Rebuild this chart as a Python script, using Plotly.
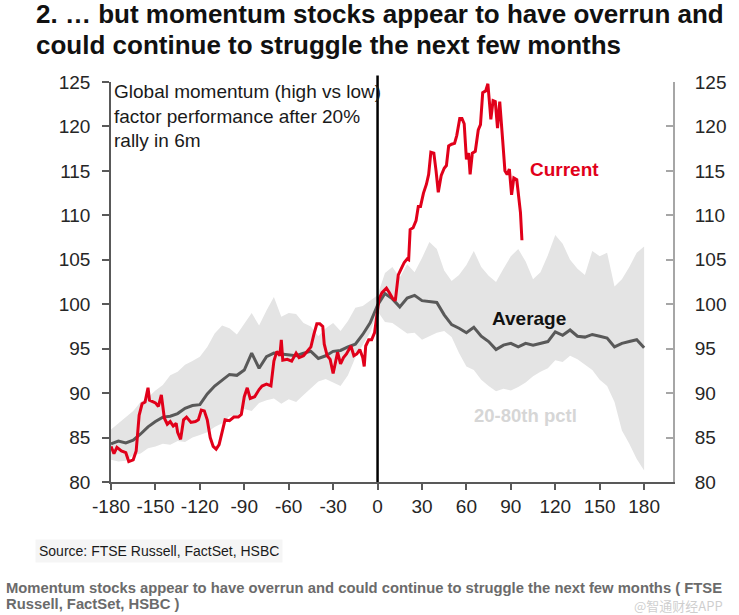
import plotly.graph_objects as go

# ---------------- data ----------------
band_x = list(range(-180, 181, 5))
band_upper = [85.9, 86.6, 87.4, 88.0, 89.0, 89.5, 90.3, 90.9, 92.0, 92.4, 93.2, 93.6, 94.1,
              95.2, 96.7, 97.6, 97.3, 96.6, 97.8, 99.0, 97.6, 99.3, 100.8, 98.6, 99.0, 98.9,
              97.9, 97.5, 96.4, 97.3, 97.9, 97.0, 98.1, 99.6, 99.8, 100.4, 101.0,
              103.5, 104.2, 103.0, 104.5, 103.6, 105.2, 107.0, 106.2, 103.8, 102.6, 103.3,
              104.4, 106.0, 104.2, 103.2, 102.5, 104.0, 105.4, 106.2, 104.8, 102.8, 103.6,
              105.5, 107.8, 106.8, 105.0, 104.0, 103.3, 106.0, 105.4, 105.8, 102.0, 102.8,
              104.2, 105.8, 106.5]
band_lower = [82.5, 82.3, 82.4, 83.0, 83.2, 83.8, 84.0, 84.3, 84.2, 84.6, 84.5, 85.0, 85.3,
              85.6, 86.2, 86.6, 87.4, 87.4, 88.2, 88.0, 88.9, 89.2, 89.4, 88.8, 89.3, 89.0,
              89.8, 90.5, 91.3, 91.6, 91.2, 90.8, 92.0, 94.0, 95.4, 96.8, 99.2,
              98.0, 97.9, 97.3, 96.7, 96.8, 96.0, 96.4, 96.8, 97.0, 96.3, 94.5, 93.0, 92.6,
              91.5, 90.8, 90.2, 90.5, 90.3, 90.7, 91.2, 91.9, 92.4, 92.8, 93.7, 93.5, 94.2,
              93.8, 93.2, 92.6, 91.5, 90.8, 89.0, 85.8, 84.3, 82.6, 81.3]
average = [84.3, 84.6, 84.4, 84.7, 85.4, 86.2, 86.8, 87.3, 87.4, 87.7, 88.3, 88.6, 88.7,
           89.9, 90.8, 91.5, 92.1, 92.0, 92.6, 94.5, 92.8, 94.1, 94.5, 94.4, 94.3, 94.2,
           94.5, 94.7, 93.9, 94.2, 94.7, 94.8, 95.2, 95.5, 96.6, 97.9, 99.9,
           101.2, 100.6, 99.7, 100.7, 101.0, 100.4, 100.3, 100.2, 98.8, 97.7, 97.3, 96.8,
           97.4, 96.4, 95.8, 94.9, 95.4, 95.6, 95.2, 95.6, 95.4, 95.6, 95.8, 96.9, 96.5,
           97.1, 96.4, 96.3, 96.6, 96.4, 96.2, 95.2, 95.6, 95.8, 96.0, 95.1]

current_x = [-180, -178, -176, -173, -170, -168, -165, -163, -161, -159, -157, -155, -154,
             -150, -148, -146, -144, -142, -140, -138, -136, -135, -133, -131, -129, -126,
             -123, -121, -119, -117, -115, -113, -111, -109, -107, -105, -103, -100, -97,
             -94, -92, -90, -88, -86, -83, -80, -78, -75, -72, -70, -68, -66, -65, -64,
             -61, -58, -55, -53, -50, -47, -45, -43, -41, -39, -37, -36, -34, -32, -30,
             -29, -27, -25, -23, -21, -18, -16, -14, -12, -10, -9, -8, -6, -4, -2, 0, 1,
             3, 6, 8, 10, 12, 14, 16, 18, 20, 21, 22, 24, 26, 27.5, 29, 31, 33, 34.5, 36,
             38, 39.5, 41, 43, 45, 46.5, 48, 50, 52, 53.5, 55.5, 57, 58.5, 60, 61.5, 62.5,
             64, 66, 68, 69.5, 71, 73, 74.5, 76, 76.5, 78, 79.5, 81, 82.5, 84.5, 86, 87.5,
             89, 90.5, 92, 94, 95.5, 96.5, 97.5]
current_y = [84.0, 83.2, 83.9, 83.5, 83.3, 82.3, 82.5, 83.5, 87.5, 88.8, 89.0, 90.6, 89.2,
             88.9, 88.5, 89.8, 87.2, 86.5, 86.8, 86.3, 86.6, 85.6, 84.8, 87.0, 87.3, 86.7,
             86.8, 87.0, 88.1, 88.0, 87.0, 85.0, 84.0, 83.7, 84.2, 85.8, 87.0, 86.9, 87.3,
             87.3, 87.6, 89.6, 90.6, 89.4, 89.6, 90.4, 90.8, 91.0, 90.8, 93.6, 94.7, 94.2,
             96.0, 93.7, 93.8, 93.6, 94.5, 94.0, 94.2, 94.8, 95.2, 96.6, 97.8, 97.8, 97.5,
             95.5, 94.2, 93.8, 92.2, 93.0, 94.6, 93.3, 94.0, 94.4, 95.3, 94.2, 94.4, 94.9,
             94.0, 93.0, 95.3, 96.0, 96.0, 96.8, 99.6, 100.6, 101.3, 101.8, 101.3, 100.7,
             100.4, 103.3, 104.0, 104.7, 105.1, 105.0, 108.4, 108.6, 109.4, 111.0, 111.0,
             112.5, 113.5, 114.6, 117.1, 117.0, 115.0, 112.6, 114.5, 115.3, 115.6, 117.8,
             118.0, 118.1, 119.0, 120.9, 120.9, 120.3, 116.3, 117.0, 114.6, 117.0, 117.2,
             119.6, 120.2, 123.8, 124.0, 124.8, 121.8, 120.8, 122.9, 122.8, 119.8, 122.8,
             118.4, 115.0, 114.6, 115.2, 112.3, 114.2, 114.0, 111.5, 110.3, 107.2]

x_ticks = list(range(-180, 181, 30))
y_ticks = list(range(80, 126, 5))

# ---------------- layout helpers ----------------
W, H = 739, 615
L, R, T, B = 111, 63, 81.5, 133
PW, PH = W - L - R, H - T - B


def px(xp):
    return (xp - L) / PW


def py(yp):
    return (H - B - yp) / PH


FONT = "Liberation Sans, Arial, sans-serif"
RED = "#e1001a"
GREY_LINE = "#595959"
BAND = "#e4e4e4"

fig = go.Figure()
fig.add_trace(go.Scatter(x=band_x, y=band_lower, mode="lines", line=dict(width=0, color=BAND),
                         showlegend=False, hoverinfo="skip"))
fig.add_trace(go.Scatter(x=band_x, y=band_upper, mode="lines", line=dict(width=0, color=BAND),
                         fill="tonexty", fillcolor=BAND, showlegend=False, hoverinfo="skip"))
fig.add_trace(go.Scatter(x=band_x, y=average, mode="lines", line=dict(width=3, color=GREY_LINE),
                         showlegend=False))
fig.add_trace(go.Scatter(x=current_x, y=current_y, mode="lines", line=dict(width=3, color=RED),
                         showlegend=False))
# invisible trace to activate the right-hand axis
fig.add_trace(go.Scatter(x=[0], y=[100], yaxis="y2", mode="markers", marker=dict(opacity=0),
                         showlegend=False, hoverinfo="skip"))

fig.add_shape(type="line", xref="x", yref="paper", x0=0, x1=0, y0=0, y1=1.016,
              line=dict(color="black", width=2.5))

tickfont = dict(family=FONT, size=19, color="#262626")
fig.update_layout(
    width=W, height=H,
    margin=dict(l=L, r=R, t=T, b=B, pad=0),
    paper_bgcolor="white", plot_bgcolor="white",
    showlegend=False,
    xaxis=dict(range=[-180, 199.5], tickvals=x_ticks, ticktext=[str(v) for v in x_ticks],
               showgrid=False, zeroline=False, showline=True, linecolor=GREY_LINE, linewidth=1.5,
               ticks="outside", ticklen=6, tickcolor=GREY_LINE, tickwidth=1.5, tickfont=tickfont),
    yaxis=dict(range=[80, 125], tickvals=y_ticks, showgrid=False, zeroline=False, showline=True,
               linecolor=GREY_LINE, linewidth=1.5, ticks="outside", ticklen=7, tickcolor=GREY_LINE,
               tickwidth=1.5, tickfont=tickfont, ticklabelstandoff=8),
    yaxis2=dict(range=[80, 125], tickvals=y_ticks, overlaying="y", side="right", showgrid=False,
                zeroline=False, showline=True, linecolor="#a6a6a6", linewidth=2, ticks="inside",
                ticklen=7, tickcolor="#a6a6a6", tickwidth=1.5, tickfont=tickfont,
                ticklabelstandoff=16),
)

annos = [
    dict(text="2. … but momentum stocks appear to have overrun and", x=px(34), y=py(13),
         xanchor="left", yanchor="middle", font=dict(family=FONT, size=26, color="#111111"),
         bold=True),
    dict(text="could continue to struggle the next few months", x=px(34), y=py(44),
         xanchor="left", yanchor="middle", font=dict(family=FONT, size=26, color="#111111"),
         bold=True),
    dict(text="Global momentum (high vs low)<br>factor performance after 20%<br>rally in 6m",
         x=px(112), y=py(78), xanchor="left", yanchor="top", align="left",
         font=dict(family=FONT, size=19, color="#1a1a1a")),
    dict(text="Current", x=px(567), y=py(169), xanchor="center", yanchor="middle",
         font=dict(family=FONT, size=19, color=RED), bold=True),
    dict(text="Average", x=px(531), y=py(318), xanchor="center", yanchor="middle",
         font=dict(family=FONT, size=19, color="#111111"), bold=True),
    dict(text="20-80th pctl", x=px(528), y=py(415), xanchor="center", yanchor="middle",
         font=dict(family=FONT, size=18.5, color="#d6d6d6"), bold=True),
    dict(text="Source: FTSE Russell, FactSet, HSBC", x=px(35), y=py(551), xanchor="left",
         yanchor="middle", font=dict(family=FONT, size=14, color="#1a1a1a"), bgcolor="#f5f5f5",
         borderpad=3),
    dict(text="Momentum stocks appear to have overrun and could continue to struggle the next few months ( FTSE",
         x=px(3), y=py(588), xanchor="left", yanchor="middle",
         font=dict(family=FONT, size=14.8, color="#6b6b6b"), bold=True),
    dict(text="Russell, FactSet, HSBC )", x=px(3), y=py(604), xanchor="left", yanchor="middle",
         font=dict(family=FONT, size=14.8, color="#6b6b6b"), bold=True),
    dict(text="@智通财经APP", x=px(728), y=py(606), xanchor="right", yanchor="middle",
         font=dict(family="Noto Sans CJK SC", size=13, color="rgba(190,190,190,0.75)")),
]
for a in annos:
    bold = a.pop("bold", False)
    if bold:
        a["text"] = "<b>" + a["text"] + "</b>"
    fig.add_annotation(xref="paper", yref="paper", showarrow=False, **a)

fig.write_html("out.html")
